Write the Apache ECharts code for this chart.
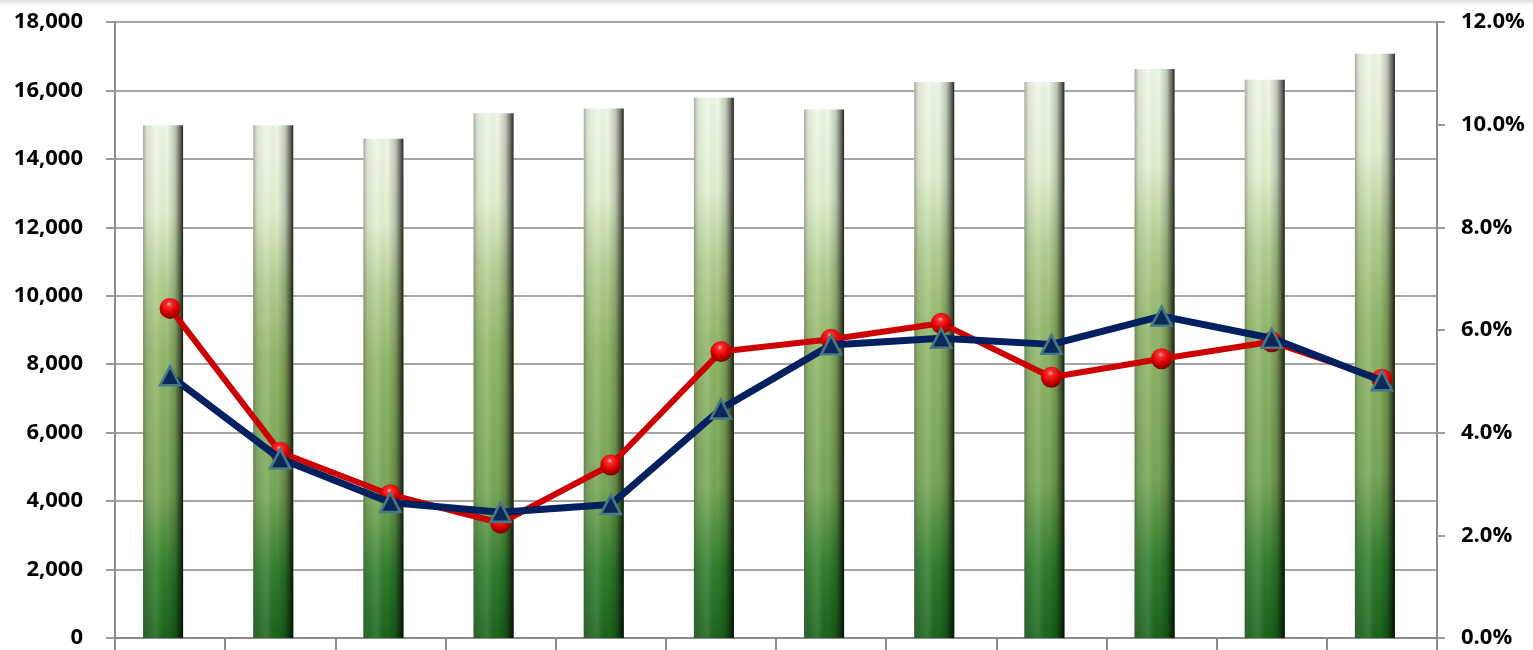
<!DOCTYPE html>
<html>
<head>
<meta charset="utf-8">
<script src="https://cdn.jsdelivr.net/npm/echarts@6/dist/echarts.min.js"></script>
<style>
html,body{margin:0;padding:0;background:#fff;}
#chart{width:1533px;height:650px;}
</style>
</head>
<body>
<div id="chart"></div>
<script>
const categories = ['1','2','3','4','5','6','7','8','9','10','11','12'];
const barValues = [14980, 14980, 14590, 15330, 15470, 15790, 15440, 16250, 16250, 16630, 16310, 17070];
const redRates = [6.42, 3.62, 2.79, 2.24, 3.37, 5.58, 5.82, 6.13, 5.08, 5.44, 5.77, 5.04];
const blueRates = [5.11, 3.49, 2.64, 2.45, 2.60, 4.46, 5.71, 5.84, 5.72, 6.27, 5.84, 5.01];
const leftTicks = {min: 0, max: 18000, interval: 2000};
const rightTicks = {min: 0, max: 12, interval: 2};

const chart = echarts.init(document.getElementById('chart'));
const labelFont = {fontFamily: 'Open Sans', fontWeight: 'bold', fontSize: 22, color: '#000'};

const barGradient = {
  type: 'linear', x: 0, y: 0, x2: 0, y2: 1,
  colorStops: [
    {offset: 0, color: '#eef8e6'},
    {offset: 0.17, color: '#e3f0d0'},
    {offset: 0.3, color: '#b6d094'},
    {offset: 0.45, color: '#93b86a'},
    {offset: 0.72, color: '#77a656'},
    {offset: 0.87, color: '#2f7e2c'},
    {offset: 1, color: '#1b641b'}
  ]
};
const sideShade = {
  type: 'linear', x: 0, y: 0, x2: 1, y2: 0,
  colorStops: [
    {offset: 0, color: 'rgba(70,70,70,0.45)'},
    {offset: 0.1, color: 'rgba(120,120,120,0.15)'},
    {offset: 0.35, color: 'rgba(255,255,255,0.12)'},
    {offset: 0.6, color: 'rgba(0,0,0,0)'},
    {offset: 0.8, color: 'rgba(0,0,0,0.2)'},
    {offset: 0.92, color: 'rgba(0,0,0,0.55)'},
    {offset: 1, color: 'rgba(0,0,0,0.85)'}
  ]
};
const sphere = {
  type: 'radial', x: 0.45, y: 0.3, r: 0.75,
  colorStops: [
    {offset: 0, color: '#ffc8c8'},
    {offset: 0.15, color: '#ff3030'},
    {offset: 0.55, color: '#d80000'},
    {offset: 1, color: '#6a0000'}
  ]
};

const option = {
  animation: false,
  backgroundColor: '#fff',
  graphic: [{
    type: 'rect', left: 0, top: 0, shape: {width: 1533, height: 6}, z: 100,
    style: {fill: {type: 'linear', x: 0, y: 0, x2: 0, y2: 1,
      colorStops: [{offset: 0, color: 'rgba(0,0,0,0.12)'}, {offset: 1, color: 'rgba(0,0,0,0)'}]}}
  }],
  grid: [
    {left: 115, right: 96, top: 22, bottom: 12},
    {left: 108, right: 103, top: 22, bottom: 12}
  ],
  xAxis: [
    {type: 'category', gridIndex: 0, data: categories, boundaryGap: true,
      axisLine: {show: true, lineStyle: {color: '#8c8c8c', width: 2}},
      axisTick: {show: true, interval: 0, length: 14, lineStyle: {color: '#8c8c8c', width: 2}},
      axisLabel: {show: false}, splitLine: {show: false}},
    {type: 'category', gridIndex: 1, data: categories, show: false}
  ],
  yAxis: [
    {type: 'value', gridIndex: 0, min: leftTicks.min, max: leftTicks.max, interval: leftTicks.interval,
      axisLine: {show: true, lineStyle: {color: '#8c8c8c', width: 2}},
      axisTick: {show: true, length: 9, lineStyle: {color: '#9a9a9a', width: 2}},
      splitLine: {show: true, lineStyle: {color: '#a6a6a6', width: 2}},
      axisLabel: Object.assign({margin: 32, formatter: v => v.toLocaleString('en-US')}, labelFont)},
    {type: 'value', gridIndex: 0, position: 'right', min: rightTicks.min, max: rightTicks.max, interval: rightTicks.interval,
      axisLine: {show: true, lineStyle: {color: '#8c8c8c', width: 2}},
      axisTick: {show: true, length: 8, lineStyle: {color: '#9a9a9a', width: 2}},
      splitLine: {show: false},
      axisLabel: Object.assign({margin: 24, formatter: v => v.toFixed(1) + '%'}, labelFont)},
    {type: 'value', gridIndex: 1, min: leftTicks.min, max: leftTicks.max, interval: leftTicks.interval, show: false, splitLine: {show: false}}
  ],
  series: [
    {type: 'bar', xAxisIndex: 1, yAxisIndex: 2, data: barValues, barWidth: 40, barGap: '-100%',
      itemStyle: {color: barGradient}, z: 2},
    {type: 'bar', xAxisIndex: 1, yAxisIndex: 2, data: barValues, barWidth: 40, barGap: '-100%',
      itemStyle: {color: sideShade}, z: 3},
    {type: 'line', xAxisIndex: 0, yAxisIndex: 1, data: redRates, z: 10,
      lineStyle: {color: '#cc0000', width: 6},
      symbol: 'circle', symbolSize: 21,
      itemStyle: {color: sphere, borderWidth: 0}},
    {type: 'line', xAxisIndex: 0, yAxisIndex: 1, data: blueRates, z: 11,
      lineStyle: {color: '#002060', width: 7},
      symbol: 'triangle', symbolSize: [20, 19],
      itemStyle: {color: '#0b2858', borderColor: '#467886', borderWidth: 2.5}}
  ]
};
chart.setOption(option);
</script>
</body>
</html>
